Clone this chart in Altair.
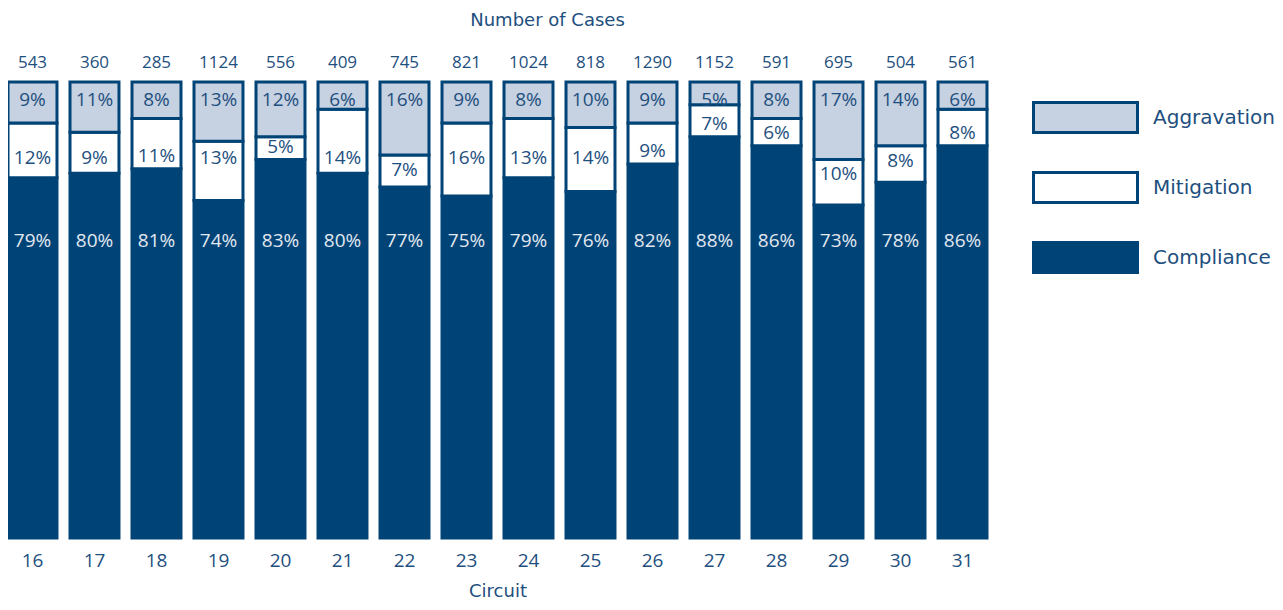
import altair as alt
import pandas as pd

circuits = ["16", "17", "18", "19", "20", "21", "22", "23", "24", "25", "26", "27", "28", "29", "30", "31"]
cases = [543, 360, 285, 1124, 556, 409, 745, 821, 1024, 818, 1290, 1152, 591, 695, 504, 561]
aggravation = [9, 11, 8, 13, 12, 6, 16, 9, 8, 10, 9, 5, 8, 17, 14, 6]
mitigation = [12, 9, 11, 13, 5, 14, 7, 16, 13, 14, 9, 7, 6, 10, 8, 8]
compliance = [79, 80, 81, 74, 83, 80, 77, 75, 79, 76, 82, 88, 86, 73, 78, 86]
categories = ["Aggravation", "Mitigation", "Compliance"]

NAVY = "#004477"
LIGHT = "#c6d1e1"
TEXT = "#1e4f7e"
PALE = "#e3e8f0"
FONT = "Open Sans"
WFONT = "DejaVu Sans"

rows = []
for i, c in enumerate(circuits):
    for cat, vals, o in [("Compliance", compliance, 0), ("Mitigation", mitigation, 1), ("Aggravation", aggravation, 2)]:
        rows.append({"circuit": c, "category": cat, "value": vals[i], "ord": o})
long_df = pd.DataFrame(rows)

wide_df = pd.DataFrame({
    "circuit": circuits,
    "cases": cases,
    "agg": aggravation,
    "mit": mitigation,
    "comp": compliance,
})

x_enc = alt.X(
    "circuit:N",
    sort=circuits,
    scale=alt.Scale(paddingInner=0.21, paddingOuter=0),
    axis=alt.Axis(
        title="Circuit", labelAngle=0, domain=False, ticks=False,
        labelPadding=13, titlePadding=12, labelFontSize=19, titleFontSize=18,
        labelColor=TEXT, titleColor=TEXT, labelFont=FONT, titleFont=WFONT,
        titleFontWeight="normal",
    ),
)
y_scale = alt.Scale(domain=[0, 100], nice=False, zero=True)

bars = alt.Chart(long_df).mark_bar(stroke=NAVY, strokeWidth=3).encode(
    x=x_enc,
    y=alt.Y("value:Q", stack="zero", scale=y_scale, axis=None),
    color=alt.Color(
        "category:N",
        scale=alt.Scale(domain=categories, range=[LIGHT, "white", NAVY]),
        legend=alt.Legend(
            title=None, orient="none", legendX=1056, legendY=14,
            symbolType="M-2.6,-0.75H2.6V0.75H-2.6Z", symbolSize=1600,
            symbolStrokeColor=NAVY, symbolStrokeWidth=3, symbolOpacity=1,
            labelFontSize=20, labelColor=TEXT, labelFont=WFONT,
            labelOffset=46, rowPadding=27, padding=0,
        ),
    ),
    order=alt.Order("ord:Q", sort="ascending"),
)

base = alt.Chart(wide_df).encode(x=alt.X("circuit:N", sort=circuits))

count_text = base.mark_text(dy=-19, fontSize=17, color=TEXT, font=FONT).encode(
    y=alt.datum(100),
    text=alt.Text("cases:Q"),
)

agg_text = base.transform_calculate(lbl="datum.agg + '%'").mark_text(
    dy=18, fontSize=19, color=TEXT, font=FONT
).encode(y=alt.datum(100), text="lbl:N")

mit_text = base.transform_calculate(
    lbl="datum.mit + '%'",
    ypos="clamp(83.5, datum.comp + 3, datum.comp + datum.mit - 3)",
).mark_text(dy=1, fontSize=19, color=TEXT, font=FONT).encode(
    y=alt.Y("ypos:Q", scale=y_scale), text="lbl:N"
)

comp_text = base.transform_calculate(lbl="datum.comp + '%'").mark_text(
    dy=159, fontSize=19, color=PALE, font=FONT
).encode(y=alt.datum(100), text="lbl:N")

chart = alt.layer(bars, count_text, agg_text, mit_text, comp_text).properties(
    width=979,
    height=456,
    title=alt.Title(
        "Number of Cases", frame="group", anchor="middle", offset=24, dx=50,
        fontSize=18, fontWeight="normal", color=TEXT, font=WFONT,
    ),
    autosize=alt.AutoSizeParams(type="none"),
    padding={"left": 0, "top": 74, "right": 288, "bottom": 64},
).configure_view(stroke=None)

chart.save("out.html", embed_options={"renderer": "svg", "actions": False})
